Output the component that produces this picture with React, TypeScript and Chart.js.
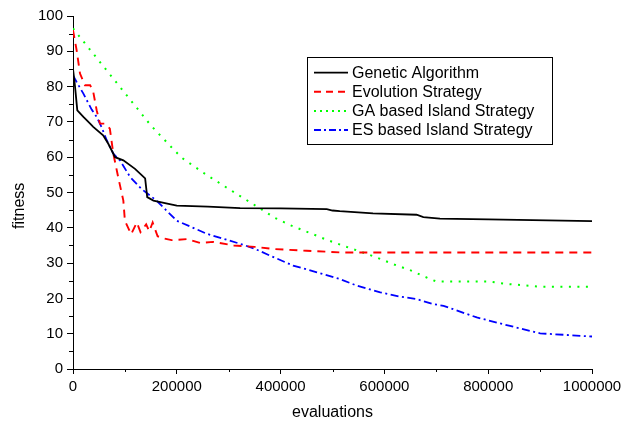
import React, { useEffect, useRef } from "react";
import { Chart, registerables } from "chart.js";

Chart.register(...registerables);

// ---- data ----
const seriesNames = [
  "Genetic Algorithm",
  "Evolution Strategy",
  "GA based Island Strategy",
  "ES based Island Strategy",
];

const gaX = [0, 3900, 8300, 20000, 33000, 39000, 58000, 68000, 74600, 81000, 97000, 119500, 139000, 143000, 155000, 184000, 200000, 260000, 322000, 400000, 489000, 500000, 514000, 578000, 662000, 675000, 707000, 800000, 1000000];
const gaY = [85, 80, 73.3, 71.4, 69.5, 68.6, 66.2, 63.8, 61.9, 60, 59.1, 56.7, 54, 48.7, 47.7, 46.8, 46.3, 46, 45.6, 45.5, 45.3, 44.9, 44.7, 44.1, 43.7, 43, 42.6, 42.4, 41.9];

const esX = [0, 7000, 13500, 23000, 33000, 39000, 45600, 52000, 61700, 71000, 77700, 87000, 97000, 100000, 112000, 123000, 130000, 141000, 147000, 153500, 163000, 175000, 190000, 220000, 245000, 270000, 310000, 350000, 386000, 450000, 520000, 1000000];
const esY = [96, 90.3, 83.7, 80.4, 80.4, 78.5, 73.3, 69.5, 69.5, 68.1, 61, 54.4, 47.7, 42, 38.2, 41.5, 38.8, 41, 39, 41.5, 37.6, 37, 36.5, 36.8, 35.7, 36, 35, 34.6, 34, 33.5, 33, 33];

const gaIslandX = [0, 13500, 150000, 195000, 210000, 257000, 322000, 357000, 389000, 421000, 457000, 489000, 521000, 553000, 585000, 617000, 653000, 669000, 688000, 700000, 800000, 836000, 900000, 1000000];
const gaIslandY = [96.5, 94, 69, 62, 59.8, 55, 49, 45.8, 42.8, 40.6, 38.5, 36.6, 34.9, 33.3, 31.6, 29.7, 27.8, 26.7, 25.5, 24.8, 24.8, 24.1, 23.3, 23.3];

const esIslandX = [0, 7000, 20000, 36000, 45600, 55000, 65000, 77700, 90500, 110000, 132000, 161000, 180000, 200000, 258000, 328000, 351000, 380000, 424000, 470000, 514000, 547000, 592000, 630000, 662000, 694000, 714000, 778000, 842000, 900000, 1000000];
const esIslandY = [83.2, 81.3, 78, 73.5, 71.4, 68.5, 64.8, 61, 59.1, 54.4, 51, 47.7, 44.9, 42, 38.3, 35.2, 34, 32.1, 29.3, 27.4, 25.5, 23.6, 21.7, 20.5, 19.8, 18.4, 17.9, 14.6, 12.2, 10.1, 9.2];

const xMinorTicks = [100000, 300000, 500000, 700000, 900000];
const yMinorTicks = [5, 15, 25, 35, 45, 55, 65, 75, 85, 95];

const FONT = "'Liberation Sans', Arial, Helvetica, sans-serif";

function pts(xs: number[], ys: number[]) {
  return xs.map((x, i) => ({ x, y: ys[i] }));
}

const minorTicksPlugin = {
  id: "minorTicks",
  afterDraw(chart: any) {
    const { ctx } = chart;
    const xs = chart.scales.x;
    const ys = chart.scales.y;
    ctx.save();
    ctx.strokeStyle = "#000";
    ctx.lineWidth = 1;
    ctx.beginPath();
    xMinorTicks.forEach((v) => {
      const px = Math.round(xs.getPixelForValue(v)) + 0.5;
      ctx.moveTo(px, xs.top);
      ctx.lineTo(px, xs.top + 3);
    });
    yMinorTicks.forEach((v) => {
      const py = Math.round(ys.getPixelForValue(v)) + 0.5;
      ctx.moveTo(ys.right, py);
      ctx.lineTo(ys.right - 4, py);
    });
    ctx.stroke();
    ctx.restore();
  },
};

const boxLegendPlugin = {
  id: "boxLegend",
  afterDraw(chart: any) {
    const { ctx } = chart;
    const left = 307.5;
    const top = 57.5;
    const w = 245;
    const h = 87;
    ctx.save();
    ctx.fillStyle = "#fff";
    ctx.fillRect(left, top, w, h);
    ctx.strokeStyle = "#000";
    ctx.lineWidth = 1;
    ctx.setLineDash([]);
    ctx.strokeRect(left, top, w, h);
    ctx.font = `16px ${FONT}`;
    ctx.textBaseline = "middle";
    ctx.textAlign = "left";
    chart.data.datasets.forEach((ds: any, i: number) => {
      const y = 72.7 + i * 19.1;
      ctx.beginPath();
      ctx.strokeStyle = ds.borderColor;
      ctx.lineWidth = ds.borderWidth;
      ctx.setLineDash(ds.legendDash || ds.borderDash || []);
      ctx.moveTo(314, y);
      ctx.lineTo(348, y);
      ctx.stroke();
      ctx.setLineDash([]);
      ctx.fillStyle = "#000";
      ctx.fillText(ds.label, 352, y + 0.5);
    });
    ctx.restore();
  },
};

export default function App() {
  const canvasRef = useRef<HTMLCanvasElement | null>(null);

  useEffect(() => {
    if (!canvasRef.current) return;
    const chart = new Chart(canvasRef.current, {
      type: "line",
      data: {
        datasets: [
          {
            label: seriesNames[0],
            data: pts(gaX, gaY),
            borderColor: "#000000",
            borderWidth: 1.8,
            pointRadius: 0,
            tension: 0,
          },
          {
            label: seriesNames[1],
            data: pts(esX, esY),
            borderColor: "#ff0000",
            borderWidth: 1.9,
            borderDash: [8, 6],
            legendDash: [7, 5],
            pointRadius: 0,
            tension: 0,
          } as any,
          {
            label: seriesNames[2],
            data: pts(gaIslandX, gaIslandY),
            borderColor: "#00ff00",
            borderWidth: 2,
            borderDash: [2, 6.5],
            legendDash: [2, 4],
            pointRadius: 0,
            tension: 0,
          } as any,
          {
            label: seriesNames[3],
            data: pts(esIslandX, esIslandY),
            borderColor: "#0000ff",
            borderWidth: 1.8,
            borderDash: [8, 3.5, 2, 3.5],
            legendDash: [7, 3, 2, 3],
            pointRadius: 0,
            tension: 0,
          } as any,
        ],
      },
      options: {
        responsive: false,
        animation: false,
        devicePixelRatio: 1,
        layout: { padding: { top: 16, right: 47, left: 0, bottom: 0 } },
        plugins: {
          legend: { display: false },
          tooltip: { enabled: false },
        },
        scales: {
          x: {
            type: "linear",
            min: 0,
            max: 1000000,
            afterFit: (s: any) => {
              s.height = 54;
            },
            ticks: {
              stepSize: 200000,
              color: "#000",
              padding: 4,
              maxRotation: 0,
              font: { family: FONT, size: 15 },
              callback: (v: any) => String(v),
            },
            grid: {
              drawOnChartArea: false,
              drawTicks: true,
              tickLength: 5,
              color: "#000",
            },
            border: { display: true, color: "#000", width: 1 },
            title: {
              display: true,
              text: "evaluations",
              color: "#000",
              font: { family: FONT, size: 16 },
              padding: { top: 0, bottom: 1 },
            },
          },
          y: {
            type: "linear",
            min: 0,
            max: 100,
            afterFit: (s: any) => {
              s.width = 73;
            },
            ticks: {
              stepSize: 10,
              color: "#000",
              padding: 4,
              font: { family: FONT, size: 15 },
              callback: (v: any) => String(v),
            },
            grid: {
              drawOnChartArea: false,
              drawTicks: true,
              tickLength: 6,
              color: "#000",
            },
            border: { display: true, color: "#000", width: 1 },
            title: {
              display: true,
              text: "fitness      ",
              color: "#000",
              font: { family: FONT, size: 16 },
              padding: { top: 10, bottom: 0 },
            },
          },
        },
      },
      plugins: [minorTicksPlugin, boxLegendPlugin],
    });
    return () => chart.destroy();
  }, []);

  return (
    <div style={{ position: "fixed", left: 0, top: 0, width: 639, height: 423, background: "#fff" }}>
      <canvas ref={canvasRef} width={639} height={423} style={{ width: 639, height: 423, display: "block" }} />
    </div>
  );
}
